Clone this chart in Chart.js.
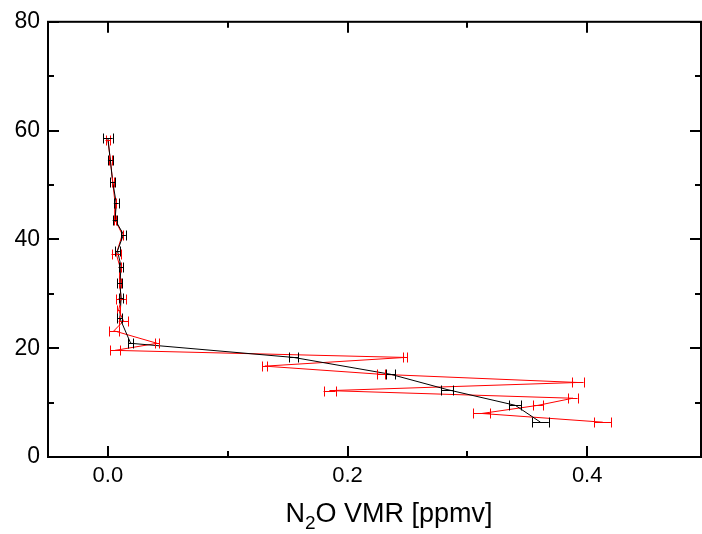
<!DOCTYPE html>
<html>
<head>
<meta charset="utf-8">
<script src="https://cdn.jsdelivr.net/npm/chart.js@4/dist/chart.umd.min.js"></script>
<style>
  body { margin: 0; background: #fff; }
  canvas { display: block; }
</style>
</head>
<body>
<canvas id="chart" width="702" height="534"></canvas>
<script>
// black profile (altitude km, N2O VMR ppmv, error)
const altBlack = [58.6, 54.6, 50.6, 46.6, 43.6, 40.9, 37.9, 35.0, 31.9, 29.2, 25.5, 20.9, 18.3, 15.2, 12.4, 9.5, 6.4];
const vmrBlack = [0.000, 0.002, 0.004, 0.007, 0.006, 0.013, 0.008, 0.011, 0.010, 0.011, 0.010, 0.019, 0.155, 0.236, 0.283, 0.340, 0.361];
const errBlack = [0.004, 0.002, 0.002, 0.002, 0.002, 0.002, 0.002, 0.002, 0.002, 0.002, 0.002, 0.002, 0.004, 0.004, 0.005, 0.005, 0.007];

// red profile
const altRed = [58.3, 54.6, 50.6, 46.6, 43.6, 40.9, 37.3, 35.0, 31.9, 29.0, 27.0, 25.0, 23.2, 20.9, 19.6, 18.3, 16.7, 15.2, 13.7, 12.2, 10.8, 9.5, 8.0, 6.4];
const vmrRed = [0.000, 0.002, 0.004, 0.006, 0.006, 0.012, 0.007, 0.010, 0.010, 0.011, 0.009, 0.013, 0.005, 0.041, 0.006, 0.248, 0.131, 0.228, 0.392, 0.185, 0.388, 0.359, 0.312, 0.413];
const errRed = [0.002, 0.001, 0.001, 0.001, 0.001, 0.001, 0.004, 0.001, 0.001, 0.004, 0.001, 0.004, 0.004, 0.002, 0.004, 0.002, 0.002, 0.003, 0.005, 0.005, 0.004, 0.004, 0.007, 0.007];

const xTicks = [0, 0.2, 0.4];
const xMinor = [0.1, 0.3];
const yTicks = [0, 20, 40, 60, 80];
const yMinor = [10, 30, 50, 70];

const FONT = "'Liberation Sans', Arial, sans-serif";

function toPoints(xs, ys) {
    return xs.map((x, i) => ({ x: x, y: ys[i] }));
}

// horizontal error bars with caps
const errorBars = {
    id: "errorBars",
    afterDatasetsDraw(chart) {
        const ctx = chart.ctx;
        const xs = chart.scales.x, ys = chart.scales.y;
        const sets = [[vmrRed, altRed, errRed, "#ff0000"], [vmrBlack, altBlack, errBlack, "#000000"]];
        ctx.save();
        ctx.lineWidth = 1;
        sets.forEach(([vx, vy, ve, col]) => {
            ctx.strokeStyle = col;
            vx.forEach((v, i) => {
                const py = Math.round(ys.getPixelForValue(vy[i])) + 0.5;
                const x1 = xs.getPixelForValue(v - ve[i]);
                const x2 = xs.getPixelForValue(v + ve[i]);
                ctx.beginPath();
                ctx.moveTo(x1, py); ctx.lineTo(x2, py);
                [x1, x2].forEach(px => {
                    ctx.moveTo(Math.round(px) + 0.5, py - 5);
                    ctx.lineTo(Math.round(px) + 0.5, py + 5);
                });
                ctx.stroke();
            });
        });
        ctx.restore();
    }
};

// frame, inward ticks and axis title
const frame = {
    id: "frame",
    afterDraw(chart) {
        const ctx = chart.ctx;
        const a = chart.chartArea;
        const xs = chart.scales.x, ys = chart.scales.y;
        ctx.save();
        ctx.strokeStyle = "#000";
        ctx.lineWidth = 2;
        ctx.strokeRect(a.left, a.top, a.right - a.left, a.bottom - a.top);
        ctx.beginPath();
        const tick = (vals, len) => {
            vals.forEach(v => {
                const px = Math.round(xs.getPixelForValue(v));
                ctx.moveTo(px, a.bottom); ctx.lineTo(px, a.bottom - len);
                ctx.moveTo(px, a.top); ctx.lineTo(px, a.top + len);
            });
        };
        const ytick = (vals, len) => {
            vals.forEach(v => {
                const py = Math.round(ys.getPixelForValue(v));
                ctx.moveTo(a.left, py); ctx.lineTo(a.left + len, py);
                ctx.moveTo(a.right, py); ctx.lineTo(a.right - len, py);
            });
        };
        tick(xTicks, 11); tick(xMinor, 6);
        ytick(yTicks, 11); ytick(yMinor, 6);
        ctx.stroke();

        // N2O VMR [ppmv] with subscript
        ctx.fillStyle = "#000";
        ctx.textBaseline = "alphabetic";
        ctx.textAlign = "left";
        const big = "27px " + FONT, small = "19px " + FONT;
        ctx.font = big;
        const wN = ctx.measureText("N").width;
        const rest = "O VMR [ppmv]";
        const wRest = ctx.measureText(rest).width;
        ctx.font = small;
        const w2 = ctx.measureText("2").width;
        const total = wN + w2 + wRest;
        let x0 = 389 - total / 2;
        const base = 522;
        ctx.font = big;
        ctx.fillText("N", x0, base);
        ctx.font = small;
        ctx.fillText("2", x0 + wN, base + 7);
        ctx.font = big;
        ctx.fillText(rest, x0 + wN + w2, base);
        ctx.restore();
    }
};

new Chart(document.getElementById("chart"), {
    type: "scatter",
    data: {
        datasets: [
            {
                label: "black",
                data: toPoints(vmrBlack, altBlack),
                showLine: true,
                borderColor: "#000000",
                borderWidth: 1,
                pointRadius: 0,
                tension: 0
            },
            {
                label: "red",
                data: toPoints(vmrRed, altRed),
                showLine: true,
                borderColor: "#ff0000",
                borderWidth: 1,
                pointRadius: 0,
                tension: 0
            }
        ]
    },
    options: {
        responsive: false,
        animation: false,
        layout: { padding: { top: 19, right: 1, left: 0, bottom: 0 } },
        plugins: { legend: { display: false }, tooltip: { enabled: false } },
        scales: {
            x: {
                type: "linear",
                min: -0.05,
                max: 0.495,
                afterBuildTicks: s => { s.ticks = xTicks.map(v => ({ value: v })); },
                afterFit: s => { s.height = 77; },
                grid: { display: false, drawTicks: false },
                border: { display: false },
                ticks: {
                    padding: 6,
                    color: "#000",
                    font: { family: FONT, size: 22 },
                    callback: v => v.toFixed(1)
                }
            },
            y: {
                type: "linear",
                min: 0,
                max: 80,
                afterBuildTicks: s => { s.ticks = yTicks.map(v => ({ value: v })); },
                afterFit: s => { s.width = 48; },
                grid: { display: false, drawTicks: false },
                border: { display: false },
                ticks: {
                    padding: 8,
                    color: "#000",
                    font: { family: FONT, size: 23 }
                }
            }
        }
    },
    plugins: [errorBars, frame]
});
</script>
</body>
</html>
